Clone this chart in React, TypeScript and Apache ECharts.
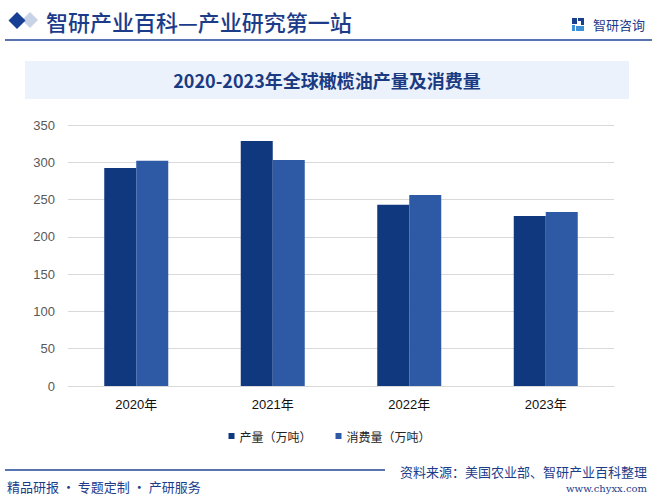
import React, { useEffect, useRef } from "react";
import * as echarts from "echarts";

const categories = ["2020年", "2021年", "2022年", "2023年"];
const production = [292.5, 328.5, 243, 228];
const consumption = [302, 303, 256, 233.5];
const seriesNames = ["产量（万吨）", "消费量（万吨）"];
const yTicks = { min: 0, max: 350, interval: 50 };
const headerText = "智研产业百科—产业研究第一站";
const chartTitle = "2020-2023年全球橄榄油产量及消费量";
const sourceText = "资料来源：美国农业部、智研产业百科整理";
const sloganText = "精品研报 · 专题定制 · 产研服务";
const siteText = "www.chyxx.com";
const brandText = "智研咨询";

const NAVY = "#1c3c8a";

export default function App() {
  const ref = useRef<HTMLDivElement>(null);
  useEffect(() => {
    document.body.style.margin = "0";
    const chart = echarts.init(ref.current!, null, { renderer: "svg" });
    chart.setOption({
      animation: false,
      backgroundColor: "#ffffff",
      grid: { left: 68, right: 45, top: 125, bottom: 118 },
      legend: {
        data: seriesNames,
        left: "center",
        top: 425,
        itemWidth: 6,
        itemHeight: 6,
        itemGap: 24,
        icon: "rect",
        textStyle: { fontSize: 12, color: "#222", fontFamily: "Noto Sans CJK SC" },
      },
      xAxis: {
        type: "category",
        data: categories,
        axisLine: { lineStyle: { color: "#d9d9d9" } },
        axisTick: { show: false },
        axisLabel: { fontSize: 13, color: "#111", margin: 12, fontFamily: "Liberation Sans, Noto Sans CJK SC" },
      },
      yAxis: {
        type: "value",
        min: yTicks.min,
        max: yTicks.max,
        interval: yTicks.interval,
        axisLine: { show: false },
        axisTick: { show: false },
        splitLine: { lineStyle: { color: "#d9d9d9" } },
        axisLabel: { fontSize: 13, color: "#595959", margin: 13, fontFamily: "Liberation Sans" },
      },
      series: [
        {
          name: seriesNames[0],
          type: "bar",
          data: production,
          barWidth: 32,
          barGap: "0%",
          itemStyle: { color: "#10387f" },
        },
        {
          name: seriesNames[1],
          type: "bar",
          data: consumption,
          barWidth: 32,
          barGap: "0%",
          itemStyle: { color: "#2e5aa5" },
        },
      ],
      graphic: [
        // header diamonds
        {
          type: "polygon",
          shape: { points: [[30, 12], [38, 20], [30, 28], [22, 20]] },
          style: { fill: "#c8d3e8" },
        },
        {
          type: "polygon",
          shape: { points: [[17, 12], [25.5, 20.5], [17, 29], [8.5, 20.5]] },
          style: { fill: "#173f94" },
        },
        {
          type: "text",
          x: 46,
          y: 21,
          style: {
            text: headerText,
            font: "500 22px 'Noto Sans CJK SC'",
            fill: NAVY,
            textVerticalAlign: "middle",
          },
        },
        {
          type: "line",
          shape: { x1: 5, y1: 40, x2: 652, y2: 40 },
          style: { stroke: "#1f4596", lineWidth: 1.5 },
        },
        // brand logo
        { type: "rect", shape: { x: 572, y: 18, width: 5, height: 6 }, style: { fill: "#1b3f8f" } },
        { type: "rect", shape: { x: 578, y: 18, width: 6, height: 3 }, style: { fill: "#1b3f8f" } },
        { type: "rect", shape: { x: 581, y: 21, width: 3, height: 4 }, style: { fill: "#1b3f8f" } },
        { type: "rect", shape: { x: 572, y: 25, width: 3, height: 6 }, style: { fill: "#3f8fd6" } },
        { type: "rect", shape: { x: 576, y: 26, width: 8, height: 5 }, style: { fill: "#3f8fd6" } },
        {
          type: "text",
          x: 593,
          y: 24,
          style: {
            text: brandText,
            font: "13px 'Noto Sans CJK SC'",
            fill: NAVY,
            textVerticalAlign: "middle",
          },
        },
        // title box
        {
          type: "rect",
          shape: { x: 25, y: 61, width: 604, height: 38 },
          style: { fill: "#ebf2fc" },
          z: -1,
        },
        {
          type: "text",
          x: 327,
          y: 80,
          style: {
            text: chartTitle,
            font: "bold 18px 'Noto Sans CJK SC'",
            fill: "#1a3a82",
            textAlign: "center",
            textVerticalAlign: "middle",
          },
        },
        // footer
        {
          type: "line",
          shape: { x1: 5, y1: 470, x2: 385, y2: 470 },
          style: { stroke: "#1f4596", lineWidth: 1.5 },
        },
        {
          type: "text",
          x: 647,
          y: 471,
          style: {
            text: sourceText,
            font: "13px 'Noto Sans CJK SC'",
            fill: NAVY,
            textAlign: "right",
            textVerticalAlign: "middle",
          },
        },
        {
          type: "text",
          x: 7,
          y: 486,
          style: {
            text: sloganText,
            font: "13px 'Noto Sans CJK SC'",
            fill: NAVY,
            textVerticalAlign: "middle",
          },
        },
        {
          type: "text",
          x: 647,
          y: 488,
          style: {
            text: siteText,
            font: "10px 'DejaVu Serif'",
            fill: NAVY,
            textAlign: "right",
            textVerticalAlign: "middle",
          },
        },
      ],
    });
    return () => chart.dispose();
  }, []);
  return <div ref={ref} style={{ width: 659, height: 504 }} />;
}
